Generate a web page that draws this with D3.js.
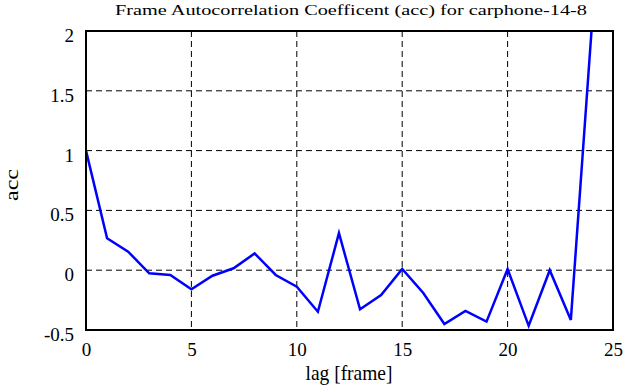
<!DOCTYPE html>
<html>
<head>
<meta charset="utf-8">
<script src="https://cdn.jsdelivr.net/npm/d3@7"></script>
<style>
  body { margin: 0; background: #fff; }
</style>
</head>
<body>
<div id="chart"></div>
<script>
const lags = [0, 1, 2, 3, 4, 5, 6, 7, 8, 9, 10, 11, 12, 13, 14, 15, 16, 17, 18, 19, 20, 21, 22, 23, 24];
const acc = [1.0, 0.267, 0.155, -0.026, -0.04, -0.16, -0.046, 0.016, 0.14, -0.04, -0.138, -0.347,
  0.31, -0.327, -0.207, 0.01, -0.19, -0.45, -0.34, -0.43, 0.01, -0.465, 0.0, -0.416, 2.05];
const xTicks = [0, 5, 10, 15, 20, 25];
const yTicks = [-0.5, 0, 0.5, 1, 1.5, 2];

const FONT = 'Liberation Serif';
const W = 641, H = 387;
const margin = {top: 31, right: 28, bottom: 57, left: 86};
const width = W - margin.left - margin.right,
  height = H - margin.top - margin.bottom;

const x = d3.scaleLinear().domain([0, 25]).range([0, width]);
const y = d3.scaleLinear().domain([-0.5, 2]).range([height, 0]);

const svgTop = d3.select('#chart').append('svg')
  .attr('width', W).attr('height', H)
  .attr('font-family', FONT);
const svg = svgTop.append('g')
  .attr('transform', `translate(${margin.left},${margin.top})`);

svg.append('clipPath').attr('id', 'clip')
  .append('rect').attr('width', width).attr('height', height);

// grid
svg.append('g').selectAll('line')
  .data(xTicks.slice(1, -1))
  .enter().append('line')
    .attr('x1', d => x(d)).attr('x2', d => x(d))
    .attr('y1', 0).attr('y2', height)
    .attr('stroke', '#000').attr('stroke-width', 1)
    .attr('stroke-dasharray', '6,4');
svg.append('g').selectAll('line')
  .data(yTicks.slice(1, -1))
  .enter().append('line')
    .attr('y1', d => y(d)).attr('y2', d => y(d))
    .attr('x1', 0).attr('x2', width)
    .attr('stroke', '#000').attr('stroke-width', 1)
    .attr('stroke-dasharray', '6,4');

const line = d3.line()
  .x((d, i) => x(lags[i]))
  .y(d => y(d));

svg.append('path')
  .datum(acc)
  .attr('clip-path', 'url(#clip)')
  .attr('fill', 'none')
  .attr('stroke', '#0000ff')
  .attr('stroke-width', 2.5)
  .attr('d', line);

// frame
svg.append('rect')
  .attr('width', width).attr('height', height)
  .attr('fill', 'none').attr('stroke', '#000').attr('stroke-width', 2);

const xAxis = d3.axisBottom(x).tickValues(xTicks).tickSize(0).tickPadding(13)
  .tickFormat(d3.format('d'));
const yAxis = d3.axisLeft(y).tickValues(yTicks).tickSize(0).tickPadding(12)
  .tickFormat(d => String(d));

svg.append('g')
  .attr('transform', `translate(0,${height})`)
  .call(xAxis)
  .attr('font-family', FONT)
  .call(g => g.select('.domain').remove())
  .selectAll('text')
    .style('font-family', FONT).style('font-size', '19px').attr('fill', '#000');

svg.append('g')
  .call(yAxis)
  .attr('font-family', FONT)
  .call(g => g.select('.domain').remove())
  .selectAll('text')
    .style('font-family', FONT).style('font-size', '19px').attr('fill', '#000')
    .attr('dy', '0.55em');

svgTop.append('text')
  .attr('x', 351).attr('y', 14.5)
  .attr('text-anchor', 'middle')
  .style('font-family', FONT).style('font-size', '15px')
  .attr('textLength', 472).attr('lengthAdjust', 'spacingAndGlyphs')
  .text('Frame Autocorrelation Coefficent (acc) for carphone-14-8');

svgTop.append('text')
  .attr('x', 349).attr('y', 380)
  .attr('text-anchor', 'middle')
  .style('font-family', FONT).style('font-size', '22px')
  .attr('textLength', 87).attr('lengthAdjust', 'spacingAndGlyphs')
  .text('lag [frame]');

svgTop.append('text')
  .attr('transform', `translate(18,185) rotate(-90)`)
  .attr('text-anchor', 'middle')
  .style('font-family', FONT).style('font-size', '19px')
  .attr('textLength', 32).attr('lengthAdjust', 'spacingAndGlyphs')
  .text('acc');
</script>
</body>
</html>
